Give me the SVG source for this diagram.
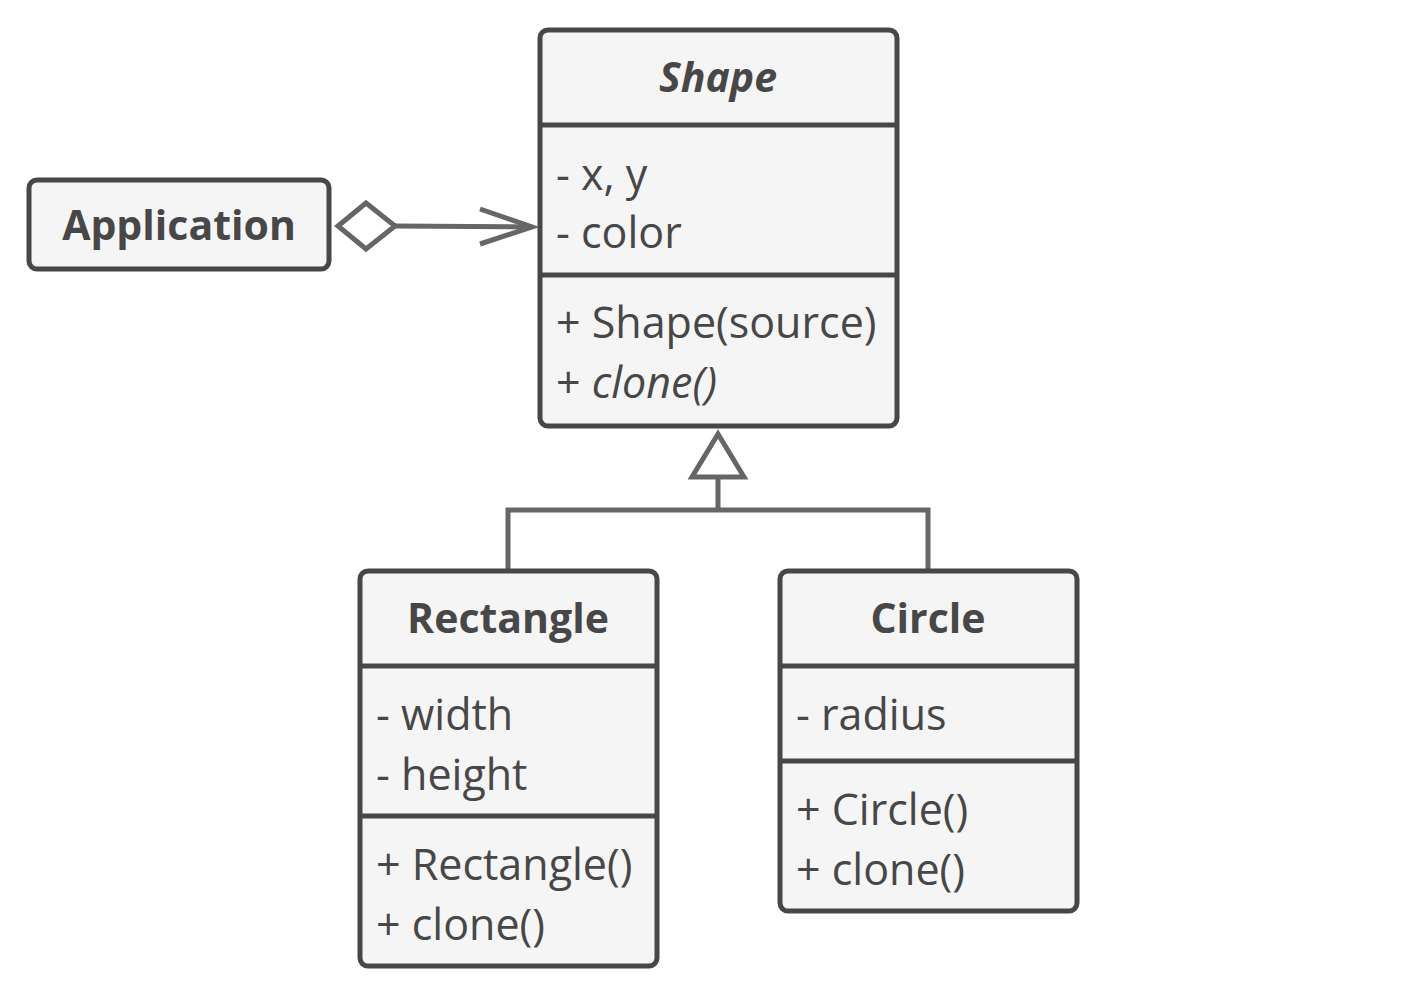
<svg xmlns="http://www.w3.org/2000/svg" width="1410" height="990" viewBox="0 0 1410 990">
<style>
.box{fill:#f5f5f5;stroke:#474747;stroke-width:5}
.sep{stroke:#474747;stroke-width:5}
.title{font-family:"Open Sans","Noto Sans",sans-serif;font-weight:bold;font-size:41px;fill:#474747;text-anchor:middle}
.txt{font-family:"Open Sans","Noto Sans",sans-serif;font-size:43px;fill:#474747}
.conn{fill:none;stroke:#666666;stroke-width:5}
</style>
<rect width="1410" height="990" fill="#ffffff"/>
<g id="connectors">
<path class="conn" d="M338,226 L366,203 L395,226 L366,249 Z" stroke-linejoin="miter"/>
<path class="conn" d="M395,226 L532,227"/>
<path class="conn" d="M480,209 L532,227 L480,244"/>
<path class="conn" d="M718,434 L744,477 L692,477 Z"/>
<path class="conn" d="M718,477 L718,510 M508,570 L508,510 L928,510 L928,570"/>
</g>
<g id="application">
<rect class="box" x="29" y="180" width="300" height="89" rx="8"/>
<text class="title" x="179" y="240">Application</text>
</g>
<g id="shape">
<rect class="box" x="540" y="30" width="357" height="396" rx="8"/>
<line class="sep" x1="540" y1="125" x2="897" y2="125"/>
<line class="sep" x1="540" y1="275" x2="897" y2="275"/>
<text class="title" x="718" y="92" font-style="italic">Shape</text>
<text class="txt" x="556" y="190">- x, y</text>
<text class="txt" x="556" y="248">- color</text>
<text class="txt" x="556" y="338">+ Shape(source)</text>
<text class="txt" x="556" y="398">+ <tspan font-style="italic">clone()</tspan></text>
</g>
<g id="rectangle">
<rect class="box" x="360" y="571" width="297" height="395" rx="8"/>
<line class="sep" x1="360" y1="666" x2="657" y2="666"/>
<line class="sep" x1="360" y1="816" x2="657" y2="816"/>
<text class="title" x="508" y="633">Rectangle</text>
<text class="txt" x="376" y="730">- width</text>
<text class="txt" x="376" y="790">- height</text>
<text class="txt" x="376" y="880">+ Rectangle()</text>
<text class="txt" x="376" y="940">+ clone()</text>
</g>
<g id="circle">
<rect class="box" x="780" y="571" width="297" height="340" rx="8"/>
<line class="sep" x1="780" y1="666" x2="1077" y2="666"/>
<line class="sep" x1="780" y1="761" x2="1077" y2="761"/>
<text class="title" x="928" y="633">Circle</text>
<text class="txt" x="796" y="730">- radius</text>
<text class="txt" x="796" y="825">+ Circle()</text>
<text class="txt" x="796" y="885">+ clone()</text>
</g>
</svg>
